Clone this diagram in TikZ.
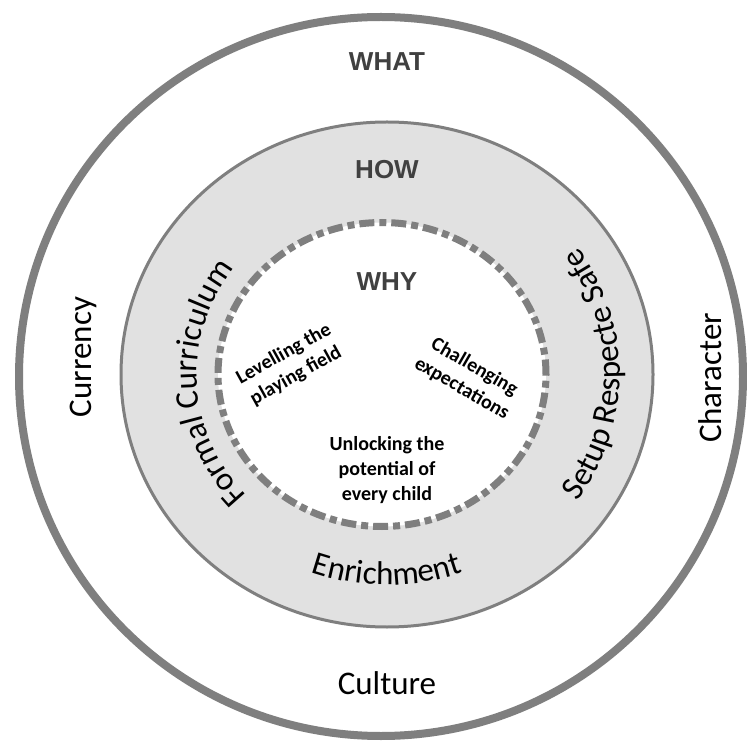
\documentclass[tikz,border=0pt]{standalone}
\usepackage{fontspec}
\setmainfont{Carlito}
\newfontfamily\headfont{Liberation Sans}
\usetikzlibrary{decorations.text}

\definecolor{ringgray}{HTML}{7F7F7F}
\definecolor{ringfill}{HTML}{E1E1E1}
\definecolor{headgray}{HTML}{404040}
\newcommand{\ringfont}{\fontsize{33}{33}\selectfont}

\begin{document}
\begin{tikzpicture}[x=1pt,y=1pt]
    \tikzstyle{head}=[font=\headfont\bfseries\fontsize{26}{26}\selectfont, text=headgray]
    \tikzstyle{ring}=[font=\ringfont]
    \tikzstyle{why}=[font=\bfseries\fontsize{20}{25}\selectfont, align=center]
    \tikzstyle{along}=[decorate, decoration={text along path, text align=center}]
    \useasboundingbox[fill=white] (0,0) rectangle (747,740);

    % the three rings
    \draw[ringgray, line width=8pt] (381,363.5) ellipse [x radius=362, y radius=359.5];
    \draw[ringgray, fill=ringfill, line width=3pt] (387,365.5) ellipse [x radius=266, y radius=252.5];
    \draw[ringgray, fill=white, line width=7pt, dash pattern=on 15pt off 5pt on 7pt off 5pt]
        (382,365.5) ellipse [x radius=164, y radius=152];

    % headings
    \node[head] (what) at (387,678) {WHAT};
    \node[head] (how) at (387,570) {HOW};
    \node[head] (why) at (387,458) {WHY};

    % inner ring
    \node[why, rotate=29] (level) at (290,375) {Levelling the\\playing field};
    \node[why, rotate=-30] (challenge) at (468,362) {Challenging\\expectations};
    \node[why] (unlock) at (387,270) {Unlocking the\\potential of\\every child};

    % middle ring, set along the edge
    \path[along, decoration={text={|\ringfont|Formal Curriculum}}]
        (387,365.5) ++(224:190 and 180) arc[start angle=224, end angle=142, x radius=190, y radius=180];
    \path[along, decoration={text={|\ringfont|Setup Respecte Safe}}]
        (387,365.5) ++(-40:233 and 221) arc[start angle=-40, end angle=40, x radius=233, y radius=221];
    \path[along, decoration={text={|\ringfont|Enrichment}}]
        (387,365.5) ++(-130:222 and 210.5) arc[start angle=-130, end angle=-50, x radius=222, y radius=210.5];

    % outer ring
    \node[ring, rotate=90] (currency) at (83,383) {Currency};
    \node[ring, rotate=90] (character) at (710,362) {Character};
    \node[ring] (culture) at (387,57) {Culture};
\end{tikzpicture}
\end{document}
